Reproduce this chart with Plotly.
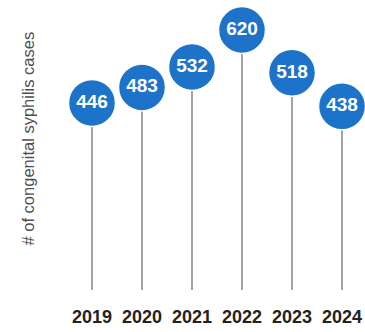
import plotly.graph_objects as go

# Annual congenital syphilis case counts
years = ["2019", "2020", "2021", "2022", "2023", "2024"]
cases = [446, 483, 532, 620, 518, 438]

BLUE = "#1c73c9"
STEM = "#8c8c8c"
FONT = "Liberation Sans, Arial, sans-serif"

# Vertical stems from zero up to each value
stem_x, stem_y = [], []
for yr, v in zip(years, cases):
    stem_x += [yr, yr, None]
    stem_y += [0, v, None]

fig = go.Figure()
fig.add_trace(go.Scatter(
    x=stem_x, y=stem_y, mode="lines",
    line=dict(color=STEM, width=1.6),
    hoverinfo="skip", showlegend=False,
))
fig.add_trace(go.Scatter(
    x=years, y=cases, mode="markers+text",
    marker=dict(size=47, color=BLUE, line=dict(color="white", width=1.5)),
    text=[str(v) for v in cases],
    textposition="middle center",
    textfont=dict(family=FONT, size=19, color="white", weight="bold"),
    cliponaxis=False, showlegend=False,
))

fig.add_annotation(
    text="# of congenital syphilis cases",
    xref="paper", yref="paper",
    x=(27 - 67) / 297, y=1 - 138.5 / 290,
    xanchor="center", yanchor="middle",
    textangle=-90, showarrow=False,
    font=dict(family=FONT, size=16.5, color="#4f4f4f"),
)

fig.update_layout(
    width=365, height=332,
    margin=dict(l=67, r=1, t=0, b=42),
    paper_bgcolor="white", plot_bgcolor="white",
    xaxis=dict(
        type="category", categoryorder="array", categoryarray=years,
        range=[-0.5, 5.44], showgrid=False, zeroline=False, showline=False,
        ticks="", ticklabelstandoff=14,
        tickfont=dict(family=FONT, size=18, color="#222222", weight="bold"),
    ),
    yaxis=dict(
        range=[0, 691.5], visible=False, showgrid=False, zeroline=False,
    ),
)

fig.write_html("out.html")
